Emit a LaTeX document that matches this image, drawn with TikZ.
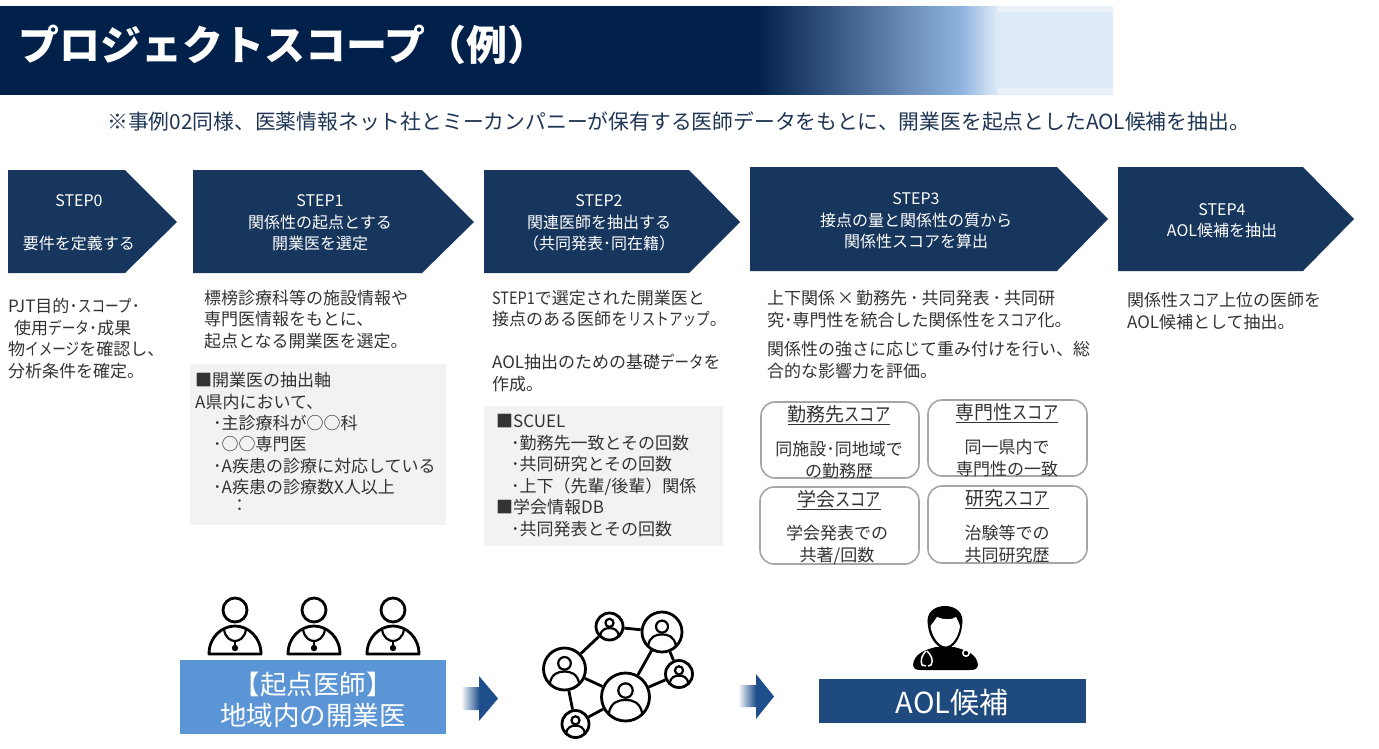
\documentclass[tikz,border=0pt]{standalone}
\usepackage{fontspec}
\setmainfont{Noto Sans CJK JP}
\definecolor{navy}{HTML}{01204A}
\definecolor{stepblue}{HTML}{17365D}
\definecolor{midblue}{HTML}{8FB4E0}
\definecolor{pale}{HTML}{DEEAF6}
\definecolor{paler}{HTML}{EAF1F9}
\definecolor{txt}{HTML}{333333}
\definecolor{sub}{HTML}{1F3654}
\definecolor{boxgray}{HTML}{F2F2F2}
\definecolor{startblue}{HTML}{5B95D5}
\definecolor{aolblue}{HTML}{1F4A7D}
\definecolor{arrowblue}{HTML}{1F4E8C}
\pgfdeclarehorizontalshading{bandshade}{100bp}{color(0bp)=(navy); color(59bp)=(navy); color(68.2bp)=(midblue); color(69.8bp)=(pale); color(100bp)=(pale)}
\newcommand{\fsz}[2]{\fontsize{#1pt}{#2pt}\selectfont}
\newcommand{\kn}[2][0.8]{{\addfontfeature{FakeStretch=#1}#2}}
\tikzset{
  x=1pt,y=-1pt,
  stepshape/.style={fill=stepblue},
  steptext/.style={text=white,align=center,inner sep=0pt,font=\fsz{16}{21.5}},
  bodytext/.style={text=txt,align=left,anchor=west,inner sep=0pt,font=\fsz{17}{21.5}},
  graybox/.style={fill=boxgray},
  scorebox/.style={draw=black!35,line width=1.6pt,rounded corners=14pt,fill=white},
  scorehead/.style={text=txt,inner sep=0pt,font=\fsz{19}{22}},
  scoretext/.style={text=txt,align=center,inner sep=0pt,font=\fsz{17}{22}},
  iconline/.style={line width=2.8pt,black},
  netline/.style={line width=2.8pt,black},
  netnode/.style={circle,draw=black,fill=white,line width=2.8pt,inner sep=0pt},
  flowarrow/.style={left color=white,right color=arrowblue,middle color=arrowblue},
}
\newcommand{\doctor}[2]{%
\begin{scope}[shift={(#1,#2)}]
  \draw[iconline] (0,0) circle (12);
  \draw[iconline,line join=round] (-26,44) .. controls (-26,27) and (-13,16) .. (0,16)
     .. controls (13,16) and (26,27) .. (26,44) -- cycle;
  \draw[iconline,line width=2.2pt] (-11,19) .. controls (-10,28) and (-4,31) .. (0,31)
     .. controls (4,31) and (10,28) .. (11,19);
  \draw[iconline,line width=2.2pt] (0,31) -- (0,37);
  \fill (0,38) circle (3.2);
\end{scope}}
\newcommand{\netface}[3]{%
\begin{scope}[shift={(#1,#2)},x=#3pt,y=-#3pt]
  \draw[line width=2.2pt] (0,-.27) circle (.30);
  \draw[line width=2.2pt] (-.70,.70) .. controls (-.62,.22) and (-.3,.12) .. (0,.12)
     .. controls (.3,.12) and (.62,.22) .. (.70,.70);
\end{scope}}
\begin{document}
\begin{tikzpicture}
\path[use as bounding box,fill=white] (0,0) rectangle (1379,748);
% header band
\shade[shading=bandshade] (0,6) rectangle (1113,94);
\fill[paler] (998,6) rectangle (1113,12);
\fill[paler] (998,88) rectangle (1113,94);
\node[text=white,anchor=west,inner sep=0pt,font=\fsz{41}{46}\bfseries] (title) at (18,45) {プロジェクトスコープ（例）};
\node[text=sub,anchor=west,inner sep=0pt,font=\fsz{20.8}{24}] (subtitle) at (107,122) {※事例02同様、医薬情報ネット社とミーカンパニーが保有する医師データをもとに、開業医を起点としたAOL候補を抽出。};
% step arrows
\fill[stepshape] (8,170) -- (125,170) -- (177,222) -- (125,273) -- (8,273) -- cycle;
\fill[stepshape] (193,170) -- (422,170) -- (474,222) -- (422,273) -- (193,273) -- cycle;
\fill[stepshape] (484,170) -- (689,170) -- (740,222) -- (689,273) -- (484,273) -- cycle;
\fill[stepshape] (750,167) -- (1057,167) -- (1108,219) -- (1057,271) -- (750,271) -- cycle;
\fill[stepshape] (1118,167) -- (1303,167) -- (1354,219) -- (1303,271) -- (1118,271) -- cycle;
\node[steptext] (s0) at (79,223) {STEP0\\~\\要件を定義する};
\node[steptext] (s1) at (320,223) {STEP1\\関係性の起点とする\\開業医を選定};
\node[steptext] (s2) at (599,223) {STEP2\\関連医師を抽出する\\（共同発表･同在籍）};
\node[steptext] (s3) at (916,221) {STEP3\\接点の量と関係性の質から\\関係性スコアを算出};
\node[steptext] (s4) at (1222,220.5) {STEP4\\AOL候補を抽出};
% gray boxes
\fill[graybox] (190,364) rectangle (446,525);
\fill[graybox] (484,406) rectangle (723,546);
% body text
\node[bodytext] (t0) at (8,338.5) {PJT目的･\kn{スコープ}･\\\hspace*{6pt}使用\kn{データ}･成果\\物\kn{イメージ}を確認し、\\分析条件を確定。};
\node[bodytext] (t1) at (204,319.5) {標榜診療科等の施設情報や\\専門医情報をもとに、\\起点となる開業医を選定。};
\node[bodytext] (b1a) at (195,391) {■開業医の抽出軸\\A県内において、};
\node[bodytext] (b1b) at (213,455) {･主診療科が○○科\\･○○専門医\\･A疾患の診療に対応している\\･A疾患の診療数X人以上};
\node[bodytext] (b1c) at (231,506) {：};
\node[bodytext] (t2) at (492,341) {\kn[0.85]{STEP1}で選定された開業医と\\接点のある医師を\kn{リストアップ}。\\~\\AOL抽出のための基礎\kn[0.85]{データ}を\\作成。};
\node[bodytext] (b2) at (496,475.5) {■SCUEL\\\hspace*{15pt}･勤務先一致とその回数\\\hspace*{15pt}･共同研究とその回数\\\hspace*{15pt}･上下（先輩/後輩）関係\\■学会情報DB\\\hspace*{15pt}･共同発表とその回数};
\node[bodytext] (t3a) at (767,309) {上下関係\kern2pt×\kern2pt勤務先\kern3pt･\kern3pt共同発表\kern3pt･\kern3pt共同研\\究･専門性を統合した関係性を\kn{スコア}化。};
\node[bodytext] (t3b) at (767,360) {関係性の強さに応じて重み付けを行い、総\\合的な影響力を評価。};
\node[bodytext] (t4) at (1127,311) {関係性\kn{スコア}上位の医師を\\AOL候補として抽出。};
% score boxes
\draw[scorebox] (761,402) rectangle (919,478);
\draw[scorebox] (928,400) rectangle (1087,476);
\draw[scorebox] (760,487) rectangle (919,564);
\draw[scorebox] (928,486) rectangle (1087,563);
\node[scorehead] (h1) at (839,415) {\underline{勤務先\kn{スコア}}};
\node[scorehead] (h2) at (1007,413) {\underline{専門性\kn{スコア}}};
\node[scorehead] (h3) at (839,500) {\underline{学会\kn{スコア}}};
\node[scorehead] (h4) at (1007,499) {\underline{研究\kn{スコア}}};
\node[scoretext] (d1) at (839,460.5) {同施設･同地域で\\の勤務歴};
\node[scoretext] (d2) at (1007,458.5) {同一県内で\\専門性の一致};
\node[scoretext] (d3) at (837,544.5) {学会発表での\\共著/回数};
\node[scoretext] (d4) at (1007,544.5) {治験等での\\共同研究歴};
% start doctors
\doctor{235}{610}
\doctor{314}{610}
\doctor{393}{610}
\fill[startblue] (180,660) rectangle (446,734);
\node[text=white,align=center,inner sep=0pt,font=\fsz{26.5}{31}] (start) at (313,699.5) {【起点医師】\\地域内の開業医};
% flow arrows
\shade[flowarrow] (461,687) -- (479,687) -- (479,676) -- (498,698.5) -- (479,721) -- (479,710) -- (461,710) -- cycle;
\shade[flowarrow] (738,685) -- (756,685) -- (756,674) -- (774,696.5) -- (756,719) -- (756,707) -- (738,707) -- cycle;
% network
\node[netnode,minimum size=42pt] (na) at (564.5,669) {};
\node[netnode,minimum size=27pt] (nb) at (609.5,626.5) {};
\node[netnode,minimum size=40pt] (nc) at (662,632) {};
\node[netnode,minimum size=27pt] (nd) at (679,674) {};
\node[netnode,minimum size=48pt] (ne) at (625.5,697) {};
\node[netnode,minimum size=27pt] (nf) at (575.5,724) {};
\draw[netline] (na) -- (nb);
\draw[netline] (nb) -- (nc);
\draw[netline] (na) -- (ne);
\draw[netline] (na) -- (nf);
\draw[netline] (nf) -- (ne);
\draw[netline] (ne) -- (nc);
\draw[netline] (nc) -- (nd);
\draw[netline] (ne) -- (nd);
\begin{scope}
\clip (na) circle (21);
\netface{564.5}{669}{21}
\end{scope}
\begin{scope}
\clip (nb) circle (13.5);
\netface{609.5}{626.5}{13.5}
\end{scope}
\begin{scope}
\clip (nc) circle (20);
\netface{662}{632}{20}
\end{scope}
\begin{scope}
\clip (nd) circle (13.5);
\netface{679}{674}{13.5}
\end{scope}
\begin{scope}
\clip (ne) circle (24);
\netface{625.5}{697}{24}
\end{scope}
\begin{scope}
\clip (nf) circle (13.5);
\netface{575.5}{724}{13.5}
\end{scope}
% AOL doctor
\fill (913,665) .. controls (914,654) and (924,650) .. (936,647) -- (954,647)
   .. controls (966,650) and (977,654) .. (978,665) .. controls (977,669) and (975,670) .. (970,670)
   -- (921,670) .. controls (916,670) and (914,669) .. (913,665) -- cycle;
\fill (928,626) .. controls (925,612) and (935,606) .. (945,606) .. controls (955,606) and (965,612) .. (962,626)
   .. controls (961,638) and (953,649) .. (945.5,649) .. controls (938,649) and (929,638) .. (928,626) -- cycle;
\fill[white] (930.5,626) .. controls (933,623) and (935,620) .. (937,617) .. controls (944,620) and (952,620) .. (956,617)
   .. controls (958,620) and (959,623) .. (960,626)
   .. controls (959,636) and (952,646.5) .. (945.5,646.5) .. controls (939,646.5) and (931.5,636) .. (930.5,626) -- cycle;
\draw[white,line width=1.5pt] (926,651) .. controls (922,655) and (920,660) .. (922,665) -- (926,666);
\draw[white,line width=1.5pt] (927,651) .. controls (931,655) and (934,660) .. (931,665) -- (928,666);
\draw[white,line width=1.5pt] (966,653) circle (3.2);
\fill[aolblue] (819,679) rectangle (1086,723);
\node[text=white,inner sep=0pt,font=\fsz{29}{32}] (aol) at (952,703) {AOL候補};
\end{tikzpicture}
\end{document}
